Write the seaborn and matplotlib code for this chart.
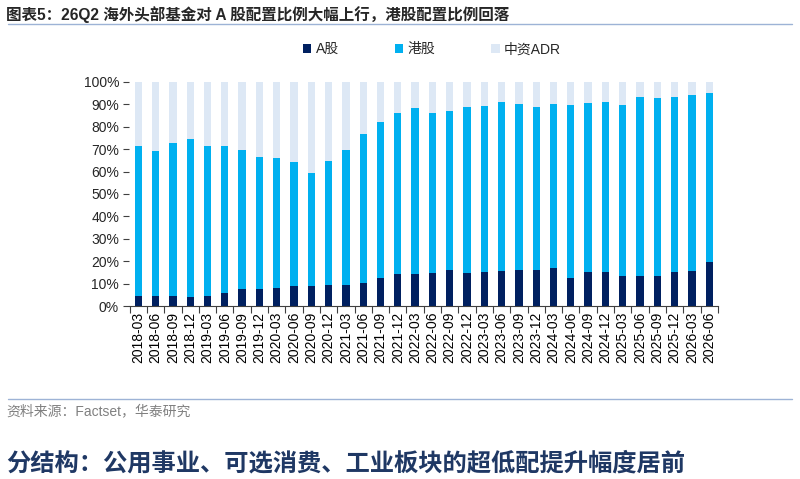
import numpy as np
import pandas as pd
import matplotlib
matplotlib.use("Agg")
import matplotlib.pyplot as plt
from matplotlib.patches import Patch
from matplotlib.ticker import FixedLocator
import seaborn as sns

quarters = ["2018-03", "2018-06", "2018-09", "2018-12",
            "2019-03", "2019-06", "2019-09", "2019-12",
            "2020-03", "2020-06", "2020-09", "2020-12",
            "2021-03", "2021-06", "2021-09", "2021-12",
            "2022-03", "2022-06", "2022-09", "2022-12",
            "2023-03", "2023-06", "2023-09", "2023-12",
            "2024-03", "2024-06", "2024-09", "2024-12",
            "2025-03", "2025-06", "2025-09", "2025-12",
            "2026-03", "2026-06"]

a_share = [4.6, 4.6, 4.6, 4.2, 4.6, 5.8, 7.6, 7.7, 8.2, 9.1, 8.8, 9.2,
           9.2, 10.4, 12.6, 14.4, 14.4, 14.7, 16.0, 14.9, 15.3, 15.5, 16.0, 16.0,
           16.9, 12.6, 15.3, 15.3, 13.4, 13.5, 13.5, 15.0, 15.5, 19.6]
hk_share = [66.6, 64.6, 68.2, 70.4, 67.0, 65.4, 62.2, 58.9, 57.9, 55.2, 50.6, 55.7,
            60.3, 66.4, 69.6, 71.9, 73.9, 71.5, 70.8, 73.7, 74.0, 75.6, 74.0, 72.7,
            73.3, 77.1, 75.3, 75.9, 76.2, 79.7, 79.4, 78.3, 78.6, 75.3]
adr_share = [28.8, 30.8, 27.2, 25.4, 28.4, 28.8, 30.2, 33.4, 33.9, 35.7, 40.6, 35.1,
             30.5, 23.2, 17.8, 13.7, 11.7, 13.8, 13.2, 11.4, 10.7, 8.9, 10.0, 11.3,
             9.8, 10.3, 9.4, 8.8, 10.4, 6.8, 7.1, 6.7, 5.9, 5.1]

series_names = ["A股", "港股", "中资ADR"]
colors = ["#002060", "#00B0F0", "#DDE8F5"]

df = pd.DataFrame({"quarter": quarters, "A": a_share, "HK": hk_share, "ADR": adr_share})
df["top_a"] = df["A"]
df["top_hk"] = df["A"] + df["HK"]
df["top_adr"] = df["A"] + df["HK"] + df["ADR"]

sns.set_theme(style="white")
plt.rcParams["font.family"] = ["Liberation Sans", "Noto Sans CJK SC", "DejaVu Sans"]

fig = plt.figure(figsize=(8, 4.79), dpi=100)
ax = fig.add_axes([0.161, 0.361, 0.737, 0.468])

bw = 0.42
sns.barplot(data=df, x="quarter", y="top_adr", color=colors[2], width=bw,
            saturation=1, ax=ax, linewidth=0)
sns.barplot(data=df, x="quarter", y="top_hk", color=colors[1], width=bw,
            saturation=1, ax=ax, linewidth=0)
sns.barplot(data=df, x="quarter", y="top_a", color=colors[0], width=bw,
            saturation=1, ax=ax, linewidth=0)

ax.set_xlim(-0.55, len(quarters) - 0.47)
ax.set_ylim(0, 100)
ax.set_yticks(np.arange(0, 101, 10))
ax.set_yticklabels([f"{v}%" for v in range(0, 101, 10)], fontsize=10)
ax.set_xlabel("")
ax.set_ylabel("")
ax.set_xticks(range(len(quarters)))
ax.set_xticklabels(quarters, rotation=90, fontsize=10)
ax.xaxis.set_minor_locator(FixedLocator(np.arange(-0.5, len(quarters), 1.0)))
ax.tick_params(axis="x", which="major", length=0, pad=4, colors="black")
ax.tick_params(axis="x", which="minor", length=5, width=0.8, color="#404040", bottom=True)
ax.tick_params(axis="y", which="major", length=4, width=0.8, color="#404040", left=True, pad=3)
for s in ["top", "right", "left"]:
    ax.spines[s].set_visible(False)
ax.spines["bottom"].set_color("#404040")
ax.spines["bottom"].set_linewidth(0.8)
ax.grid(False)

handles = [Patch(facecolor=c, edgecolor="none") for c in colors]
fig.legend(handles, series_names, loc="center", bbox_to_anchor=(0.54, 0.897), ncol=3,
           frameon=False, fontsize=10, handlelength=0.6, handleheight=0.6,
           handletextpad=0.3, columnspacing=4.05)

fig.text(0.008, 0.97, "图表5：26Q2 海外头部基金对 A 股配置比例大幅上行，港股配置比例回落",
         fontsize=11.2, fontweight="bold", ha="left", va="center",
         family=["Liberation Sans", "Noto Sans CJK SC"])
fig.add_artist(plt.Line2D([0.01, 0.99], [0.950, 0.950], color="#9DB3D6", lw=1.0,
                          transform=fig.transFigure))
fig.add_artist(plt.Line2D([0.01, 0.99], [0.167, 0.167], color="#9DB3D6", lw=1.0,
                          transform=fig.transFigure))
fig.text(0.008, 0.141, "资料来源：Factset，华泰研究", fontsize=10, color="#808080",
         ha="left", va="center", family=["Liberation Sans", "Noto Sans CJK SC"])
fig.text(0.008, 0.033, "分结构：公用事业、可选消费、工业板块的超低配提升幅度居前",
         fontsize=17.5, fontweight="bold", color="#1F3864", ha="left", va="center",
         family=["Noto Sans CJK SC"])

fig.savefig("out.png", dpi=100)
